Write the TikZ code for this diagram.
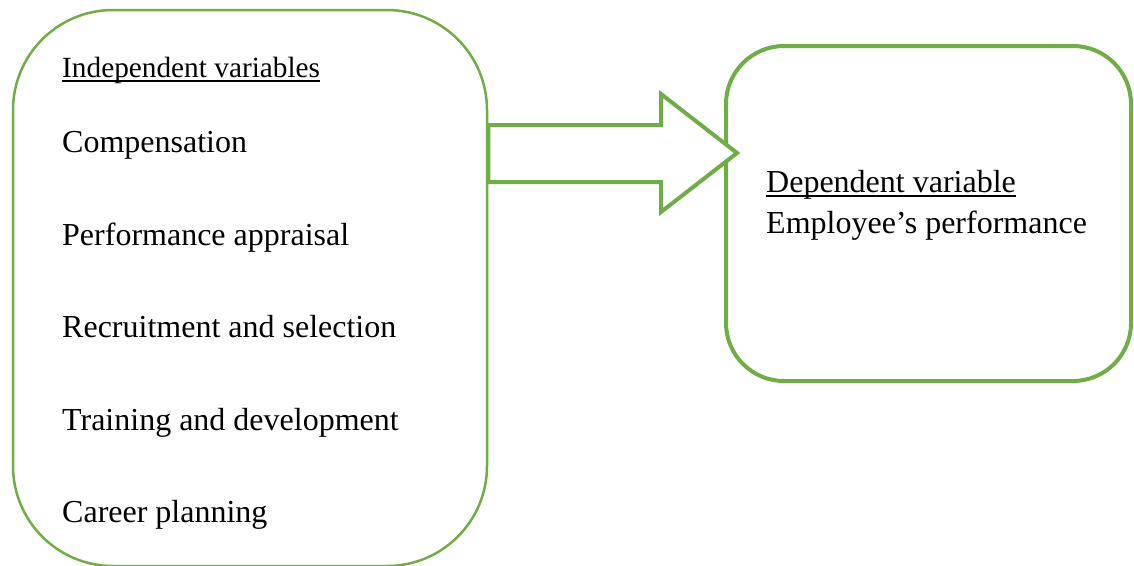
\documentclass[tikz,border=0pt]{standalone}
\usepackage{fontspec}
\setmainfont{Liberation Serif}
\newcommand{\ulin}[1]{\setbox0\hbox{#1}\rlap{\rule[-4.6pt]{\wd0}{1.8pt}}\box0}
\usepackage{tikz}
\usetikzlibrary{positioning,calc}
\definecolor{ofgreen}{RGB}{112,173,71}
\tikzset{
  varbox/.style={rectangle,draw=ofgreen,fill=white,inner sep=0pt},
  vartext/.style={anchor=base west,inner sep=0pt,font=\fontsize{32}{38}\selectfont},
  blockarrow/.style={draw=ofgreen,line width=4pt,line join=miter,fill=white},
}

\begin{document}
\begin{tikzpicture}[x=1pt,y=-1pt]
  \useasboundingbox (0,0) rectangle (1134,565);
  % boxes
  \node[varbox,line width=2.5pt,rounded corners=100pt,minimum width=474pt,minimum height=556pt] (indep) at (250,288) {};
  \node[varbox,line width=4pt,rounded corners=58pt,minimum width=405pt,minimum height=335pt] (dep) at (928.5,213.5) {};
  % block arrow
  \coordinate (shafttop) at (indep.east |- 0,125);
  \coordinate (shaftbot) at (indep.east |- 0,182);
  \coordinate (tip) at (737,153);
  \draw[blockarrow] (shafttop) -- (661,125) -- (661,94) -- (tip) -- (661,212) -- (661,182) -- (shaftbot) -- cycle;
  % independent variables
  \node[vartext,font=\fontsize{29.3}{35}\selectfont] (title) at (62,77) {\ulin{Independent variables}};
  \node[vartext] (comp) at (62,152) {Compensation};
  \node[vartext] (appr) at (62,245) {Performance appraisal};
  \node[vartext] (recr) at (62,337) {Recruitment and selection};
  \node[vartext] (train) at (62,430) {Training and development};
  \node[vartext] (career) at (62,522) {Career planning};
  % dependent variable
  \node[vartext] (deptitle) at (766,192) {\ulin{Dependent variable}};
  \node[vartext] (perf) at (766,233) {Employee’s performance};
\end{tikzpicture}
\end{document}
